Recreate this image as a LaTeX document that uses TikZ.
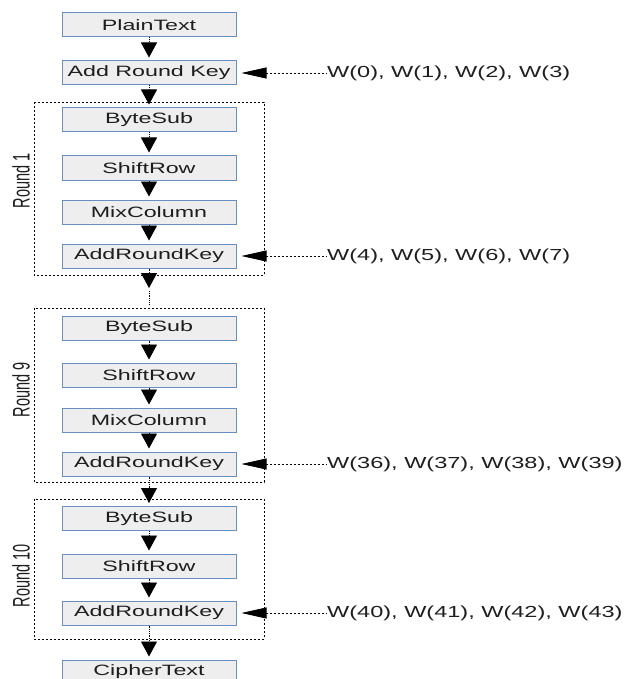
\documentclass[tikz,border=0pt]{standalone}
\usepackage{fontspec}
\setmainfont{Liberation Sans}
\newfontfamily\boxfont{Liberation Sans}[FakeStretch=1.55]
\newfontfamily\keyfont{Liberation Sans}[FakeStretch=1.47]
\usetikzlibrary{arrows.meta}
\definecolor{stageblue}{RGB}{108,142,191}
\definecolor{stagegray}{RGB}{238,238,238}
\definecolor{textdark}{RGB}{30,30,30}
\tikzset{
  stage/.style={draw=stageblue, fill=stagegray, line width=1pt, minimum width=174pt,
    minimum height=24pt, inner sep=0pt, text=textdark, font=\boxfont\fontsize{15}{18}\selectfont},
  flow/.style={-{Triangle[length=15pt, width=16pt]}, densely dotted, line width=0.8pt, shorten >=3pt},
  keyin/.style={{Triangle[length=25pt, width=11pt]}-, dash pattern=on 2pt off 2pt, line width=0.7pt, shorten <=5pt},
  keylabel/.style={anchor=west, inner sep=0pt, text=textdark, font=\keyfont\fontsize{16}{18}\selectfont},
  roundframe/.style={dash pattern=on 2pt off 2pt, line width=0.7pt},
  roundlabel/.style={xscale=1.65, rotate=90, inner sep=0pt, text=textdark, font=\fontsize{14.5}{16}\selectfont}
}
\begin{document}
\begin{tikzpicture}[x=1pt, y=-1pt]
\useasboundingbox (0,0) rectangle (623,679);
% round frames
\draw[roundframe] (34,102) rectangle (264,275);
\draw[roundframe] (34,308) rectangle (264,482);
\draw[roundframe] (34,499) rectangle (264,639);
\foreach \n/\y/\txt in {r1/181/Round 1, r9/390/Round 9, r10/576/Round 10} {
\node[roundlabel] (\n) at (21,\y) {\txt};}
% stages
\foreach \n/\y/\txt in {pt/25/PlainText, ark0/73/Add Round Key,
  bs1/120/ByteSub, sr1/168/ShiftRow, mc1/212/MixColumn, ark1/256/AddRoundKey,
  bs9/328/ByteSub, sr9/375/ShiftRow, mc9/420/MixColumn, ark9/464/AddRoundKey,
  bs10/518.5/ByteSub, sr10/566/ShiftRow, ark10/613/AddRoundKey, ct/672/CipherText} {
\node[stage] (\n) at (149,\y) {\txt};}
\foreach \a/\b in {pt/ark0, ark0/bs1, bs1/sr1, sr1/mc1, mc1/ark1, bs9/sr9, sr9/mc9,
  mc9/ark9, ark9/bs10, bs10/sr10, sr10/ark10, ark10/ct} {
\draw[flow] (\a) -- (\b);}
% rounds 2 to 8 left out
\coordinate (gap1) at (149,291); \coordinate (gap2) at (149,305);
\draw[flow] (ark1) -- (gap1);
\draw[densely dotted, line width=0.8pt] (gap1) -- (gap2);
% round keys
\foreach \n/\a/\txt in {k0/ark0/{W(0), W(1), W(2), W(3)}, k1/ark1/{W(4), W(5), W(6), W(7)},
  k9/ark9/{W(36), W(37), W(38), W(39)}, k10/ark10/{W(40), W(41), W(42), W(43)}} {
\node[keylabel] (\n) at (327,0 |- \a) {\txt};
\draw[keyin] (\a.east) -- (\n.west);}
\end{tikzpicture}
\end{document}
